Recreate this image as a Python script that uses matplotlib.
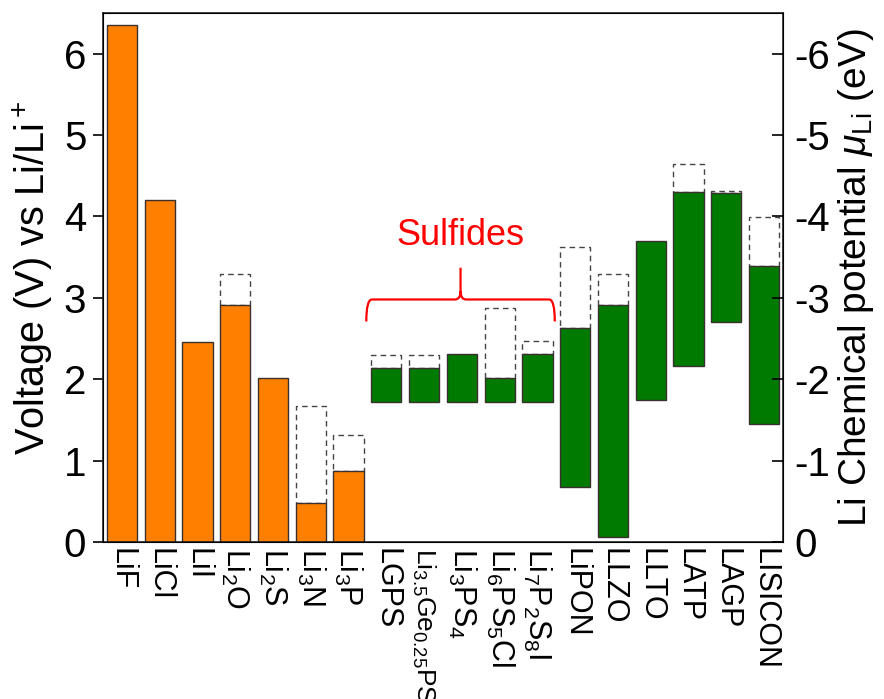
import matplotlib
matplotlib.use("Agg")
import matplotlib.pyplot as plt
from matplotlib.path import Path
from matplotlib.patches import PathPatch

plt.rcParams['font.family'] = ['Liberation Sans', 'DejaVu Sans']
plt.rcParams['mathtext.fontset'] = 'custom'
plt.rcParams['mathtext.rm'] = 'Liberation Sans'
plt.rcParams['mathtext.it'] = 'Liberation Sans:italic'
plt.rcParams['mathtext.bf'] = 'Liberation Sans:bold'

# ---- data ----
categories = ['LiF', 'LiCl', 'LiI', 'Li$_2$O', 'Li$_2$S', 'Li$_3$N', 'Li$_3$P',
              'LGPS', 'Li$_{3.5}$Ge$_{0.25}$PS$_4$', 'Li$_3$PS$_4$', 'Li$_6$PS$_5$Cl',
              'Li$_7$P$_2$S$_8$I', 'LiPON', 'LLZO', 'LLTO', 'LATP', 'LAGP', 'LISICON']

binary_tops = [6.35, 4.20, 2.46, 2.91, 2.01, 0.48, 0.87]
binary_dashed = [None, None, None, 3.29, None, 1.67, 1.31]

sse_bottoms = [1.72, 1.72, 1.72, 1.72, 1.72, 0.68, 0.06, 1.75, 2.16, 2.70, 1.45]
sse_tops = [2.14, 2.14, 2.31, 2.01, 2.31, 2.63, 2.91, 3.70, 4.30, 4.29, 3.39]
sse_dashed = [2.30, 2.30, None, 2.88, 2.47, 3.62, 3.29, None, 4.65, 4.31, 3.99]

right_ticks = [0, 1, 2, 3, 4, 5, 6]
right_ticklabels = ['0', '-1', '-2', '-3', '-4', '-5', '-6']

sulfide_first, sulfide_last = 7, 11

orange = '#FF8000'
green = '#007A00'
edge = '#3a3030'

fig = plt.figure(figsize=(8.84, 6.99), dpi=100)
ax = fig.add_axes([0.1165, 0.2246, 0.7692, 0.7568])

n_bin = len(binary_tops)
xb = list(range(n_bin))
xs = list(range(n_bin, n_bin + len(sse_tops)))
w = 0.8

ax.bar(xb, binary_tops, width=w, color=orange, edgecolor=edge, linewidth=1.0, zorder=2)
for x, top, d in zip(xb, binary_tops, binary_dashed):
    if d is not None:
        ax.bar(x, d - top, bottom=top, width=w, fill=False, edgecolor='#444444',
               linestyle=(0, (4, 3)), linewidth=1.0, zorder=1)

sse_h = [t - b for t, b in zip(sse_tops, sse_bottoms)]
ax.bar(xs, sse_h, bottom=sse_bottoms, width=w, color=green, edgecolor=edge, linewidth=1.0, zorder=2)
for x, top, d in zip(xs, sse_tops, sse_dashed):
    if d is not None:
        ax.bar(x, d - top, bottom=top, width=w, fill=False, edgecolor='#444444',
               linestyle=(0, (4, 3)), linewidth=1.0, zorder=1)

ax.set_xlim(-0.5, len(categories) - 0.5)
ax.set_ylim(0, 6.5)
ax.set_xticks(range(len(categories)))
ax.set_xticklabels(categories, rotation=-90, fontsize=22, va='top', ha='center')
ax.get_xticklabels()[8].set_fontsize(19)
ax.tick_params(axis='x', length=0, pad=4)
ax.set_yticks(right_ticks)
ax.tick_params(axis='y', labelsize=29, length=7, width=1.2, direction='out', pad=5)
ax.set_ylabel('Voltage (V) vs Li/Li$^+$', fontsize=28.5, labelpad=6)
for s in ax.spines.values():
    s.set_linewidth(1.2)
    s.set_color('#222222')

ax2 = ax.twinx()
ax2.set_ylim(ax.get_ylim())
ax2.set_yticks(right_ticks)
ax2.set_yticklabels(right_ticklabels)
ax2.tick_params(axis='y', labelsize=29, length=8, width=1.2, direction='in', pad=8)
ax2.set_ylabel(r'Li Chemical potential $\mu_{\rm Li}$ (eV)', fontsize=28, labelpad=4)

# Sulfides brace
x0 = sulfide_first - 0.53
x1 = sulfide_last + 0.46
xm = (x0 + x1) / 2
yb, ye, yt = 2.98, 2.71, 3.37
c = 0.15
verts = [(x0, ye), (x0, yb), (x0 + c, yb), (xm - c, yb), (xm, yb), (xm, yb + 0.1), (xm, yt),
         (xm, yb + 0.1), (xm, yb), (xm + c, yb), (x1 - c, yb), (x1, yb), (x1, ye)]
codes = [Path.MOVETO, Path.CURVE3, Path.CURVE3, Path.LINETO, Path.CURVE3, Path.CURVE3, Path.LINETO,
         Path.MOVETO, Path.CURVE3, Path.CURVE3, Path.LINETO, Path.CURVE3, Path.CURVE3]
ax.add_patch(PathPatch(Path(verts, codes), fill=False, edgecolor='red', linewidth=1.6, zorder=3))
ax.text(xm, 3.76, 'Sulfides', color='red', fontsize=26, ha='center', va='center')

fig.savefig('out.png', dpi=100)
